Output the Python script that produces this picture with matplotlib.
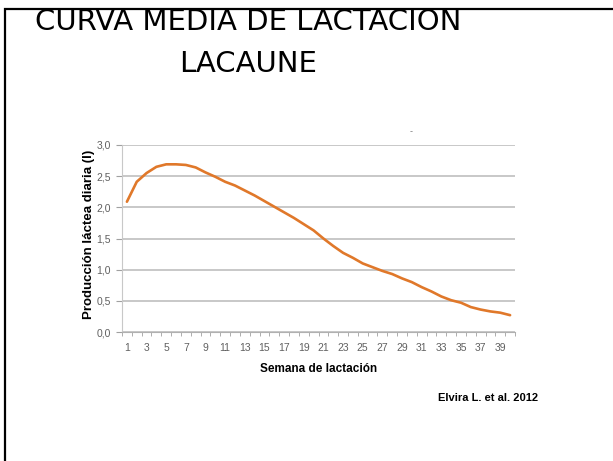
import matplotlib.pyplot as plt
from matplotlib.patches import Rectangle

# weekly mean daily milk yield (l), Lacaune ewes
weeks = list(range(1, 41))
milk = [2.09, 2.41, 2.55, 2.65, 2.69, 2.69, 2.68, 2.64, 2.56, 2.49,
        2.41, 2.35, 2.27, 2.19, 2.10, 2.01, 1.92, 1.83, 1.73, 1.63,
        1.50, 1.38, 1.27, 1.19, 1.10, 1.04, 0.98, 0.93, 0.86, 0.80,
        0.72, 0.65, 0.57, 0.51, 0.47, 0.40, 0.36, 0.33, 0.31, 0.27]
week_labels = [str(w) for w in weeks[::2]]
y_ticks = [0.0, 0.5, 1.0, 1.5, 2.0, 2.5, 3.0]
y_labels = ["0,0", "0,5", "1,0", "1,5", "2,0", "2,5", "3,0"]

W, H = 613, 461
fig = plt.figure(figsize=(W / 100, H / 100), dpi=100)
fig.patch.set_facecolor("white")

# slide frame
fig.add_artist(Rectangle((5 / W, -0.1), 1.2, 1 - 9 / H + 0.1,
                         transform=fig.transFigure, fill=False,
                         edgecolor="black", linewidth=1.6))

fig.text(248 / W, 1 - 22 / H, "CURVA MEDIA DE LACTACION", ha="center",
         va="center", fontsize=21, family="DejaVu Sans", color="black")
fig.text(248 / W, 1 - 64 / H, "LACAUNE", ha="center", va="center",
         fontsize=21, family="DejaVu Sans", color="black")

ax = fig.add_axes([122 / W, 1 - 332 / H, (515 - 122) / W, (332 - 145) / H])
ax.plot(weeks, milk, color="#e0782a", linewidth=1.9, solid_capstyle="round")

ax.set_xlim(0.5, 40.5)
ax.set_ylim(0, 3)
ax.set_yticks(y_ticks)
ax.set_yticklabels(y_labels)
ax.set_xticks(weeks[::2])
ax.set_xticklabels(week_labels)
ax.set_xticks([w + 0.5 for w in range(0, 41)], minor=True)
ax.grid(axis="y", color="#c4c4c4", linewidth=1.3)
ax.set_axisbelow(True)

for side in ["top", "right"]:
    ax.spines[side].set_visible(False)
ax.spines["left"].set_color("#c8c8c8")
ax.spines["bottom"].set_color("#b0b0b0")

for lab in ax.get_xticklabels() + ax.get_yticklabels():
    lab.set_fontfamily("Liberation Sans")
    lab.set_fontsize(7.5)
    lab.set_color("#606060")
ax.tick_params(axis="x", which="major", length=0, pad=8)
ax.tick_params(axis="x", which="minor", length=3, color="#a0a0a0")
ax.tick_params(axis="y", length=4, color="#a0a0a0", pad=4)

ax.set_ylabel("Producción láctea diaria (l)", fontsize=9.5, fontweight="bold",
              family="Liberation Sans")
ax.yaxis.set_label_coords(-0.068, 0.52)
ax.set_xlabel("Semana de lactación", fontsize=8.5, fontweight="bold",
              family="Liberation Sans", labelpad=7)

fig.text(538 / W, 1 - 398 / H, "Elvira L. et al. 2012", ha="right",
         va="center", fontsize=8, fontweight="bold", family="Liberation Sans")
fig.text(411 / W, 1 - 132 / H, "-", ha="center", va="center", fontsize=6,
         color="#808080")

fig.savefig("out.png", dpi=100)
